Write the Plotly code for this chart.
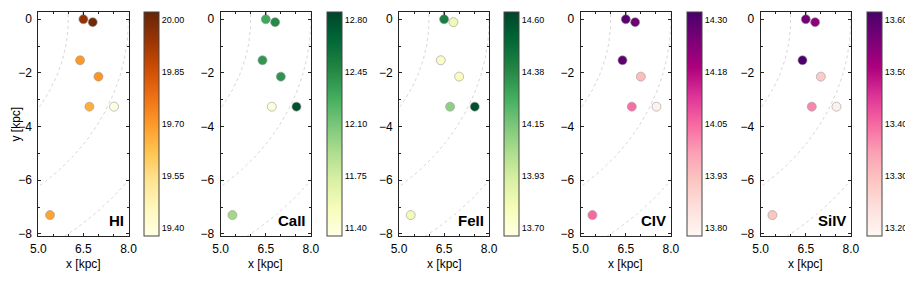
import numpy as np
import plotly.graph_objects as go

# ---- data ----
x_kpc = [6.50, 6.81, 6.39, 7.00, 6.70, 7.52, 5.39]
y_kpc = [0.00, -0.11, -1.53, -2.14, -3.26, -3.26, -7.30]

ions = ["HI", "CaII", "FeII", "CIV", "SiIV"]
logN_HI = [19.95, 20.00, 19.70, 19.71, 19.66, 19.38, 19.68]
logN_CaII = [12.30, 12.45, 12.38, 12.40, 11.40, 12.80, 11.95]
logN_FeII = [14.42, 13.82, 13.74, 13.77, 14.10, 14.60, 13.80]
logN_CIV = [14.30, 14.27, 14.29, 13.93, 14.04, 13.80, 14.05]
logN_SiIV = [13.57, 13.54, 13.61, 13.28, 13.37, 13.20, 13.29]
values = [logN_HI, logN_CaII, logN_FeII, logN_CIV, logN_SiIV]

cbar_labels_HI = ["19.40", "19.55", "19.70", "19.85", "20.00"]
cbar_labels_CaII = ["11.40", "11.75", "12.10", "12.45", "12.80"]
cbar_labels_FeII = ["13.70", "13.93", "14.15", "14.38", "14.60"]
cbar_labels_CIV = ["13.80", "13.93", "14.05", "14.18", "14.30"]
cbar_labels_SiIV = ["13.20", "13.30", "13.40", "13.50", "13.60"]
cbar_labels = [cbar_labels_HI, cbar_labels_CaII, cbar_labels_FeII, cbar_labels_CIV, cbar_labels_SiIV]

colorscales = ["YlOrBr", "YlGn", "YlGn", "RdPu", "RdPu"]

x_ticks = [5.0, 6.5, 8.0]
x_ticklabels = ["5.0", "6.5", "8.0"]
y_ticks = [0, -2, -4, -6, -8]
y_ticklabels = ["0", "\u22122", "\u22124", "\u22126", "\u22128"]
radii = [6, 8, 10]

# ---- layout geometry (window pixels) ----
WIN_W, WIN_H = 913, 283
OFF = 8  # default body margin of the page
FW, FH = WIN_W - OFF, WIN_H - OFF


def fx(px):
    return (px - OFF) / FW


def fy(py):
    return 1 - (py - OFF) / FH


panel_left = [38.3, 220.7, 399.0, 580.7, 760.7]
panel_w = 90.2
cbar_left = [144.3, 326.7, 504.0, 687.3, 867.3]
cbar_w = 15
top_px, bot_px = 11.7, 236.0
xr = [5.0, 8.0]
yr = [-8.08, 0.28]

FONT = "Liberation Sans, Arial, Helvetica, sans-serif"

fig = go.Figure()
theta = np.linspace(-np.pi / 2, np.pi / 2, 600)

for i, ion in enumerate(ions):
    n = "" if i == 0 else str(i + 1)
    xa, ya = "x" + n, "y" + n
    # dashed galactocentric circles
    for R in radii:
        fig.add_trace(go.Scatter(
            x=R * np.cos(theta), y=R * np.sin(theta), mode="lines",
            line=dict(color="#cccccc", width=0.8, dash="3px,3px"),
            xaxis=xa, yaxis=ya, showlegend=False, hoverinfo="skip"))
    # line from first sightline to top
    fig.add_trace(go.Scatter(
        x=[x_kpc[0], x_kpc[0]], y=[y_kpc[0], yr[1]], mode="lines",
        line=dict(color="#333", width=1.2),
        xaxis=xa, yaxis=ya, showlegend=False, hoverinfo="skip"))
    lo, hi = float(cbar_labels[i][0]), float(cbar_labels[i][-1])
    span = hi - lo
    cmin, cmax = lo - 0.037 * span, hi + 0.037 * span
    fig.add_trace(go.Scatter(
        x=x_kpc, y=y_kpc, mode="markers",
        marker=dict(
            size=9, color=values[i], colorscale=colorscales[i],
            cmin=cmin, cmax=cmax,
            line=dict(color="#999", width=0.6),
            colorbar=dict(
                x=fx(cbar_left[i]), xanchor="left", xpad=0,
                y=fy(top_px), yanchor="top", ypad=0,
                len=(bot_px - top_px) / FH, lenmode="fraction",
                thickness=cbar_w, outlinewidth=1, outlinecolor="#444",
                tickvals=list(np.linspace(lo, hi, 5)), ticktext=cbar_labels[i],
                ticks="", ticklen=0,
                tickfont=dict(size=9, family=FONT, color="black"),
            ),
        ),
        xaxis=xa, yaxis=ya, showlegend=False))

    dom_x = [fx(panel_left[i]), fx(panel_left[i] + panel_w)]
    dom_y = [fy(bot_px), fy(top_px)]
    axis_common = dict(
        showline=True, linecolor="#222", linewidth=1, mirror="allticks",
        ticks="inside", ticklen=3, tickcolor="#222", showgrid=False,
        zeroline=False, automargin=False,
        tickfont=dict(size=12, family=FONT, color="black"),
    )
    fig.update_layout(**{
        "xaxis" + n: dict(domain=dom_x, range=xr, anchor=ya,
                          tickvals=x_ticks, ticktext=x_ticklabels,
                          minor=dict(ticks="inside", ticklen=2, dtick=0.5, tick0=5, tickcolor="#222"),
                          ticklabelstandoff=2,
                          **axis_common),
        "yaxis" + n: dict(domain=dom_y, range=yr, anchor=xa,
                          tickvals=y_ticks, ticktext=y_ticklabels,
                          minor=dict(ticks="inside", ticklen=2, dtick=1, tick0=0, tickcolor="#222"),
                          ticklabelstandoff=3,
                          **axis_common),
    })
    # ion label
    fig.add_annotation(
        text="<b>" + ion + "</b>", xref=xa + " domain", yref=ya + " domain",
        x=1, y=0.067, xanchor="right", yanchor="middle", xshift=-3,
        showarrow=False, font=dict(size=15, family=FONT, color="black"))
    # x axis title
    fig.add_annotation(
        text="x [kpc]", xref=xa + " domain", yref="paper",
        x=0.5, y=fy(264), xanchor="center", yanchor="middle",
        showarrow=False, font=dict(size=12, family=FONT, color="black"))

fig.add_annotation(
    text="y [kpc]", xref="paper", yref="paper", x=fx(15.5), y=fy(124),
    xanchor="center", yanchor="middle", textangle=-90, showarrow=False,
    font=dict(size=12, family=FONT, color="black"))

fig.update_layout(
    width=FW, height=FH, margin=dict(l=0, r=0, t=0, b=0, autoexpand=False),
    paper_bgcolor="white", plot_bgcolor="white",
    font=dict(family=FONT, color="black"),
)

fig.write_html("out.html")
